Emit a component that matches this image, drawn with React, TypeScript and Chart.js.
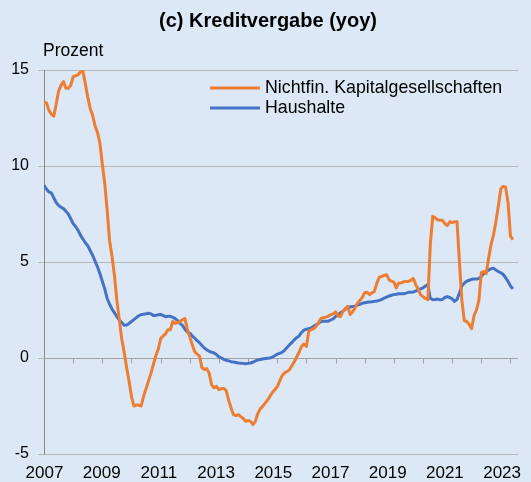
import React, { useEffect, useRef } from "react";
import { Chart, registerables } from "chart.js";

Chart.register(...registerables);

const TITLE = "(c) Kreditvergabe (yoy)";
const UNIT_LABEL = "Prozent";
const SERIES_NAMES = ["Nichtfin. Kapitalgesellschaften", "Haushalte"];
const START_YEAR = 2007;
const LABEL_YEARS = [2007, 2009, 2011, 2013, 2015, 2017, 2019, 2021, 2023];
const Y_TICKS = [-5, 0, 5, 10, 15];

// Monthly year-on-year growth, Jan 2007 – Feb 2023 (percent)
const NFC_VALUES = [
  13.3, 13.3, 12.9, 12.7, 12.6, 13.2, 13.9, 14.2, 14.4, 14.05,
  14.05, 14.2, 14.65, 14.7, 14.75, 14.9, 14.95, 14.3, 13.6, 13.0,
  12.65, 12.1, 11.75, 11.2, 10.1, 9.1, 7.7, 6.1, 5.3, 4.3,
  3.0, 2.0, 1.0, 0.3, -0.5, -1.2, -2.0, -2.5, -2.45, -2.45,
  -2.5, -2.0, -1.6, -1.2, -0.8, -0.35, 0.1, 0.45, 1.0, 1.15,
  1.25, 1.47, 1.47, 1.9, 1.8, 1.85, 1.9, 2.0, 2.05, 1.5,
  1.1, 0.7, 0.34, 0.2, 0.1, -0.5, -0.6, -0.55, -0.8, -1.4,
  -1.55, -1.48, -1.65, -1.6, -1.58, -1.7, -2.2, -2.6, -2.95, -3.0,
  -2.95, -3.05, -3.15, -3.3, -3.25, -3.3, -3.47, -3.3, -2.9, -2.65,
  -2.52, -2.35, -2.2, -2.0, -1.8, -1.65, -1.5, -1.2, -0.92, -0.78,
  -0.7, -0.62, -0.4, -0.2, 0.05, 0.3, 0.6, 0.72, 0.6, 1.4,
  1.47, 1.53, 1.65, 1.85, 2.06, 2.1, 2.13, 2.18, 2.25, 2.3,
  2.4, 2.2, 2.15, 2.43, 2.55, 2.69, 2.26, 2.4, 2.6, 2.85,
  3.0, 3.15, 3.4, 3.42, 3.3, 3.4, 3.47, 3.9, 4.2, 4.25,
  4.3, 4.34, 4.08, 4.0, 3.95, 3.65, 3.91, 3.91, 3.97, 3.99,
  3.99, 4.05, 4.15, 3.82, 3.6, 3.3, 3.2, 3.1, 3.04, 5.9,
  7.38, 7.3, 7.2, 7.17, 7.17, 7.0, 6.9, 7.1, 7.05, 7.1,
  7.1, 5.0, 3.0, 1.95, 1.9, 1.75, 1.53, 2.2, 2.5, 3.0,
  4.45, 4.5, 4.4, 5.2, 5.9, 6.4, 7.1, 7.9, 8.8, 8.94,
  8.9, 8.1, 6.35, 6.16,
];

const HH_VALUES = [
  9.0, 8.8, 8.65, 8.6, 8.35, 8.1, 7.95, 7.85, 7.78, 7.65,
  7.5, 7.25, 7.0, 6.85, 6.65, 6.4, 6.2, 6.0, 5.85, 5.6,
  5.35, 5.05, 4.75, 4.4, 4.0, 3.6, 3.1, 2.8, 2.55, 2.35,
  2.15, 1.98, 1.85, 1.7, 1.72, 1.8, 1.9, 2.0, 2.1, 2.2,
  2.26, 2.28, 2.3, 2.33, 2.3, 2.22, 2.22, 2.25, 2.27, 2.22,
  2.15, 2.17, 2.17, 2.12, 2.05, 1.95, 1.8, 1.7, 1.5, 1.35,
  1.3, 1.15, 1.04, 0.9, 0.8, 0.65, 0.52, 0.42, 0.35, 0.3,
  0.26, 0.18, 0.06, 0.0, -0.07, -0.12, -0.15, -0.19, -0.21, -0.23,
  -0.26, -0.27, -0.28, -0.3, -0.28, -0.26, -0.22, -0.15, -0.1, -0.08,
  -0.05, -0.03, -0.01, 0.0, 0.05, 0.12, 0.2, 0.24, 0.3, 0.4,
  0.55, 0.68, 0.8, 0.95, 1.06, 1.15, 1.33, 1.45, 1.5, 1.53,
  1.56, 1.65, 1.73, 1.8, 1.9, 1.91, 1.91, 1.92, 1.98, 2.04,
  2.15, 2.26, 2.35, 2.43, 2.55, 2.64, 2.66, 2.68, 2.7, 2.75,
  2.8, 2.85, 2.88, 2.9, 2.92, 2.93, 2.95, 2.97, 3.0, 3.05,
  3.12, 3.17, 3.23, 3.27, 3.3, 3.32, 3.35, 3.35, 3.35, 3.38,
  3.42, 3.43, 3.44, 3.48, 3.55, 3.6, 3.65, 3.75, 3.82, 3.1,
  3.04, 3.05, 3.07, 3.03, 3.05, 3.15, 3.2, 3.15, 3.08, 2.95,
  3.05, 3.39, 3.75, 3.9, 4.0, 4.05, 4.1, 4.11, 4.11, 4.15,
  4.25, 4.4, 4.5, 4.58, 4.65, 4.68, 4.58, 4.5, 4.45, 4.35,
  4.18, 3.99, 3.75, 3.6,
];

const X_MAX_MONTHS = 195.1;
const LAST_TICK_YEAR = 2023;

const BG = "#dde8f6";
const ORANGE = "#ed7d31";
const BLUE = "#4472c4";
const GRID = "#b9b9b9";
const AXIS = "#8a8a8a";
const TEXT = "#000000";
const FONT = "'Liberation Sans', Arial, sans-serif";

const decorPlugin = {
  id: "decor",
  beforeDatasetsDraw(chart: any) {
    const { ctx, chartArea } = chart;
    const xs = chart.scales.x;
    const ys = chart.scales.y;
    const y0 = Math.round(ys.getPixelForValue(0)) + 0.5;
    ctx.save();
    ctx.strokeStyle = "#a3a3a3";
    ctx.lineWidth = 1;
    ctx.beginPath();
    ctx.moveTo(chartArea.left, y0);
    ctx.lineTo(chartArea.right, y0);
    for (let yr = START_YEAR + 1; yr <= LAST_TICK_YEAR; yr++) {
      const px = Math.round(xs.getPixelForValue((yr - START_YEAR) * 12)) + 0.5;
      ctx.moveTo(px, y0);
      ctx.lineTo(px, y0 + 5);
    }
    ctx.stroke();
    ctx.restore();
  },
  afterDraw(chart: any) {
    const { ctx } = chart;
    ctx.save();
    ctx.fillStyle = TEXT;
    ctx.textBaseline = "middle";
    ctx.textAlign = "center";
    ctx.font = `bold 20px ${FONT}`;
    ctx.fillText(TITLE, 268, 21.5);
    ctx.textAlign = "left";
    ctx.font = `17.5px ${FONT}`;
    ctx.fillText(UNIT_LABEL, 43, 51.5);
    ctx.font = `17.8px ${FONT}`;
    chart.data.datasets.forEach((ds: any, i: number) => {
      const y = 88 + i * 20;
      ctx.strokeStyle = ds.borderColor;
      ctx.lineWidth = 3;
      ctx.beginPath();
      ctx.moveTo(210, y);
      ctx.lineTo(260, y);
      ctx.stroke();
      ctx.fillStyle = TEXT;
      ctx.fillText(ds.label, 265, y);
    });
    ctx.restore();
  },
};

export default function App() {
  const canvasRef = useRef<HTMLCanvasElement | null>(null);

  useEffect(() => {
    const canvas = canvasRef.current;
    if (!canvas) return;
    const chart = new Chart(canvas, {
      type: "line",
      data: {
        datasets: [
          {
            label: SERIES_NAMES[0],
            data: NFC_VALUES.map((v, i) => ({ x: i, y: v })),
            borderColor: ORANGE,
            borderWidth: 3,
            pointRadius: 0,
            tension: 0,
            borderJoinStyle: "round",
            xAxisID: "x",
            yAxisID: "y",
          },
          {
            label: SERIES_NAMES[1],
            data: HH_VALUES.map((v, i) => ({ x: i, y: v })),
            borderColor: BLUE,
            borderWidth: 3,
            pointRadius: 0,
            tension: 0,
            borderJoinStyle: "round",
            xAxisID: "x",
            yAxisID: "y",
          },
        ],
      },
      options: {
        responsive: false,
        animation: false,
        devicePixelRatio: 1,
        layout: { padding: { top: 70, left: 0, right: 13, bottom: 0 } },
        plugins: {
          legend: { display: false },
          title: { display: false },
          tooltip: { enabled: false },
        },
        scales: {
          x: {
            type: "linear",
            display: false,
            min: 0,
            max: X_MAX_MONTHS,
          },
          xl: {
            type: "linear",
            position: "bottom",
            min: START_YEAR - 0.5 / 28.6,
            max: START_YEAR - 0.5 / 28.6 + 474 / 28.6,
            afterBuildTicks: (scale: any) => {
              scale.ticks = LABEL_YEARS.map((y) => ({ value: y }));
            },
            afterFit: (scale: any) => {
              scale.height = 28;
            },
            grid: { display: false, drawTicks: false },
            border: { display: false },
            ticks: {
              autoSkip: false,
              maxRotation: 0,
              padding: 9,
              color: TEXT,
              font: { family: FONT, size: 17 },
              callback: (v: any) => String(v),
            },
          },
          y: {
            type: "linear",
            min: -5,
            max: 15,
            afterBuildTicks: (scale: any) => {
              scale.ticks = Y_TICKS.map((v) => ({ value: v }));
            },
            afterFit: (scale: any) => {
              scale.width = 44;
            },
            grid: {
              color: GRID,
              lineWidth: 1,
              tickLength: 6,
              drawTicks: true,
            },
            border: { display: true, color: AXIS, width: 1 },
            ticks: {
              padding: 9,
              color: TEXT,
              font: { family: FONT, size: 16 },
              callback: (v: any) => String(v),
            },
          },
        },
      },
      plugins: [decorPlugin],
    });
    return () => chart.destroy();
  }, []);

  return (
    <div
      style={{
        position: "fixed",
        left: 0,
        top: 0,
        width: 531,
        height: 482,
        background: BG,
        overflow: "hidden",
      }}
    >
      <canvas
        ref={canvasRef}
        width={531}
        height={482}
        style={{ display: "block", width: 531, height: 482 }}
      />
    </div>
  );
}
